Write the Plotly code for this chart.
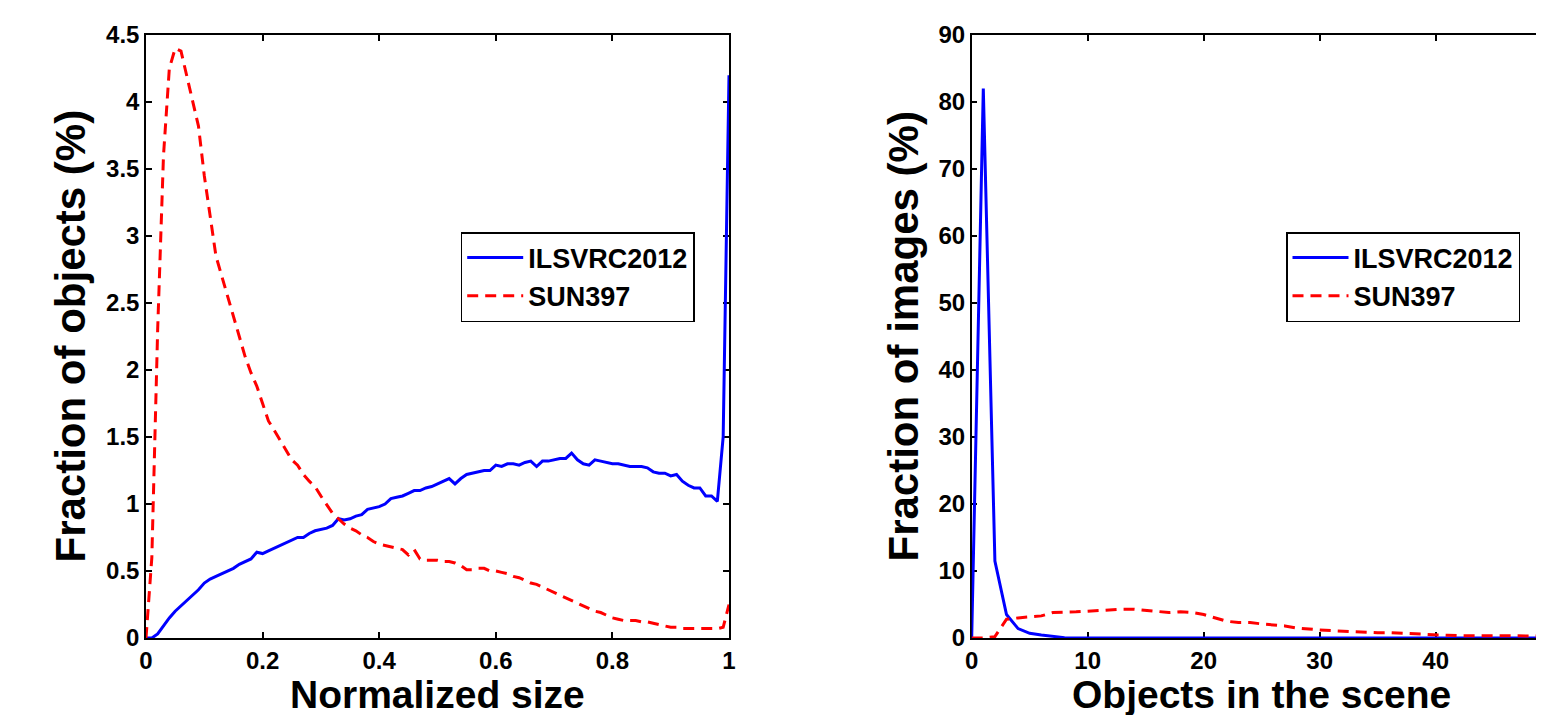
import plotly.graph_objects as go

# ---------------- data ----------------
size_x = [round(i * 0.01, 2) for i in range(101)]

ilsvrc_size = [
    0.00, 0.00, 0.03, 0.09, 0.15, 0.20, 0.24, 0.28, 0.32, 0.36,
    0.41, 0.44, 0.46, 0.48, 0.50, 0.52, 0.55, 0.57, 0.59, 0.64,
    0.63, 0.65, 0.67, 0.69, 0.71, 0.73, 0.75, 0.75, 0.78, 0.80,
    0.81, 0.82, 0.84, 0.89, 0.88, 0.89, 0.91, 0.92, 0.96, 0.97,
    0.98, 1.00, 1.04, 1.05, 1.06, 1.08, 1.10, 1.10, 1.12, 1.13,
    1.15, 1.17, 1.19, 1.15, 1.19, 1.22, 1.23, 1.24, 1.25, 1.25,
    1.29, 1.28, 1.30, 1.30, 1.29, 1.31, 1.32, 1.28, 1.32, 1.32,
    1.33, 1.34, 1.34, 1.38, 1.33, 1.30, 1.29, 1.33, 1.32, 1.31,
    1.30, 1.30, 1.29, 1.28, 1.28, 1.28, 1.27, 1.24, 1.23, 1.23,
    1.21, 1.22, 1.17, 1.14, 1.12, 1.12, 1.06, 1.06, 1.02, 1.50,
    4.20,
]

sun_size = [
    0.00, 0.60, 2.30, 3.60, 4.25, 4.40, 4.38, 4.20, 4.02, 3.82,
    3.45, 3.14, 2.85, 2.70, 2.55, 2.40, 2.23, 2.10, 1.98, 1.88,
    1.75, 1.62, 1.55, 1.48, 1.40, 1.33, 1.29, 1.22, 1.17, 1.13,
    1.06, 0.99, 0.93, 0.89, 0.85, 0.82, 0.80, 0.77, 0.75, 0.72,
    0.70, 0.69, 0.68, 0.67, 0.66, 0.62, 0.66, 0.59, 0.58, 0.58,
    0.58, 0.57, 0.57, 0.56, 0.54, 0.51, 0.51, 0.52, 0.52, 0.50,
    0.50, 0.49, 0.48, 0.46, 0.45, 0.43, 0.41, 0.40, 0.38, 0.36,
    0.34, 0.32, 0.30, 0.28, 0.26, 0.24, 0.22, 0.20, 0.19, 0.17,
    0.15, 0.14, 0.13, 0.13, 0.13, 0.12, 0.12, 0.11, 0.10, 0.09,
    0.08, 0.08, 0.07, 0.07, 0.07, 0.07, 0.07, 0.07, 0.07, 0.08,
    0.25,
]

count_x = list(range(51))

ilsvrc_count = [
    0.0, 82.0, 11.5, 3.5, 1.4, 0.7, 0.45, 0.2, 0.05, 0.0,
    0.0, 0.0, 0.0, 0.0, 0.0, 0.0, 0.0, 0.0, 0.0, 0.0,
    0.0, 0.0, 0.0, 0.0, 0.0, 0.0, 0.0, 0.0, 0.0, 0.0,
    0.0, 0.0, 0.0, 0.0, 0.0, 0.0, 0.0, 0.0, 0.0, 0.0,
    0.0, 0.0, 0.0, 0.0, 0.0, 0.0, 0.0, 0.0, 0.0, 0.0,
    0.0,
]

sun_count = [
    0.0, 0.0, 0.2, 2.8, 3.0, 3.2, 3.3, 3.8, 3.8, 3.9,
    4.0, 4.1, 4.3, 4.3, 4.3, 4.1, 3.9, 3.8, 3.9, 3.8,
    3.5, 3.0, 2.5, 2.3, 2.3, 2.1, 2.0, 1.8, 1.5, 1.3,
    1.2, 1.1, 1.0, 0.9, 0.8, 0.8, 0.8, 0.7, 0.6, 0.5,
    0.45, 0.4, 0.35, 0.35, 0.35, 0.3, 0.25, 0.25, 0.3, 0.3,
    0.3,
]

series_names = ["ILSVRC2012", "SUN397"]

left_xticks = [0, 0.2, 0.4, 0.6, 0.8, 1]
left_xticklabels = ["0", "0.2", "0.4", "0.6", "0.8", "1"]
left_yticks = [0, 0.5, 1, 1.5, 2, 2.5, 3, 3.5, 4, 4.5]
left_yticklabels = ["0", "0.5", "1", "1.5", "2", "2.5", "3", "3.5", "4", "4.5"]
right_xticks = [0, 10, 20, 30, 40, 50]
right_yticks = [0, 10, 20, 30, 40, 50, 60, 70, 80, 90]

titles = {
    "left_x": "Normalized size",
    "left_y": "Fraction of objects (%)",
    "right_x": "Objects in the scene",
    "right_y": "Fraction of images (%)",
}

# ---------------- figure ----------------
PAGE_W, PAGE_H = 1544, 715
OFF = 8  # default body margin of the html page
W, H = PAGE_W - OFF, PAGE_H - OFF
FONT = "Liberation Sans"
BLUE = "#0000ff"
RED = "#ff0000"
DASH = "11px,7px"


def px(xp):
    """page x pixel -> paper fraction"""
    return (xp - OFF) / W


plot_top, plot_bottom = 35, 638          # page pixels
left_x0, left_x1 = 146, 729
right_x0 = 971.7
right_unit = 11.6                        # px per object count
ph = plot_bottom - plot_top


def py(yp):
    """page y pixel -> paper fraction"""
    return (plot_bottom - yp) / ph


fig = go.Figure()
fig.add_trace(go.Scatter(x=size_x, y=ilsvrc_size, mode="lines", name=series_names[0],
                         line=dict(color=BLUE, width=3), xaxis="x", yaxis="y", legend="legend"))
fig.add_trace(go.Scatter(x=size_x, y=sun_size, mode="lines", name=series_names[1],
                         line=dict(color=RED, width=3, dash=DASH), xaxis="x", yaxis="y", legend="legend"))
fig.add_trace(go.Scatter(x=count_x, y=ilsvrc_count, mode="lines", name=series_names[0],
                         line=dict(color=BLUE, width=3), xaxis="x2", yaxis="y2", legend="legend2"))
fig.add_trace(go.Scatter(x=count_x, y=sun_count, mode="lines", name=series_names[1],
                         line=dict(color=RED, width=3, dash=DASH), xaxis="x2", yaxis="y2", legend="legend2"))

tickfont = dict(family=FONT, size=24, color="black", weight="bold")
axis_common = dict(
    showline=True, linecolor="black", linewidth=1.5, mirror="ticks",
    ticks="inside", ticklen=6, tickwidth=1.5, tickcolor="black",
    showgrid=False, zeroline=False, tickfont=tickfont, layer="below traces",
)

legend_font = dict(family=FONT, size=27, color="black", weight="bold")

fig.update_layout(
    width=W, height=H,
    margin=dict(l=0, r=0, t=plot_top - OFF, b=PAGE_H - plot_bottom, autoexpand=False),
    paper_bgcolor="white", plot_bgcolor="white",
    xaxis=dict(domain=[px(left_x0), px(left_x1)], range=[0, 1], anchor="y",
               tickvals=left_xticks, ticktext=left_xticklabels, **axis_common),
    yaxis=dict(domain=[0, 1], range=[0, 4.5], anchor="x",
               tickvals=left_yticks, ticktext=left_yticklabels, **axis_common),
    xaxis2=dict(domain=[px(right_x0), 1], range=[0, (PAGE_W - right_x0) / right_unit], anchor="y2",
                tickvals=right_xticks, **axis_common),
    yaxis2=dict(domain=[0, 1], range=[0, 90], anchor="x2",
                tickvals=right_yticks, **axis_common),
    legend=dict(x=px(460.7), y=py(232), xanchor="left", yanchor="top", bgcolor="white",
                bordercolor="black", borderwidth=1.5, itemwidth=56, font=legend_font),
    legend2=dict(x=px(1286), y=py(232), xanchor="left", yanchor="top", bgcolor="white",
                 bordercolor="black", borderwidth=1.5, itemwidth=56, font=legend_font),
    showlegend=True,
)

title_font_x = dict(family=FONT, size=39, color="black", weight="bold")
title_font_y = dict(family=FONT, size=42, color="black", weight="bold")
xt_y = py(694)
fig.add_annotation(text=titles["left_x"], xref="paper", yref="paper",
                   x=px((left_x0 + left_x1) / 2), y=xt_y, xanchor="center", yanchor="middle",
                   showarrow=False, font=title_font_x)
fig.add_annotation(text=titles["right_x"], xref="paper", yref="paper",
                   x=px(right_x0 + right_unit * 25), y=xt_y, xanchor="center", yanchor="middle",
                   showarrow=False, font=title_font_x)
fig.add_annotation(text=titles["left_y"], xref="paper", yref="paper",
                   x=px(70), y=0.5, xanchor="center", yanchor="middle", textangle=-90,
                   showarrow=False, font=title_font_y)
fig.add_annotation(text=titles["right_y"], xref="paper", yref="paper",
                   x=px(903), y=0.5, xanchor="center", yanchor="middle", textangle=-90,
                   showarrow=False, font=title_font_y)

fig.write_html("out.html")
